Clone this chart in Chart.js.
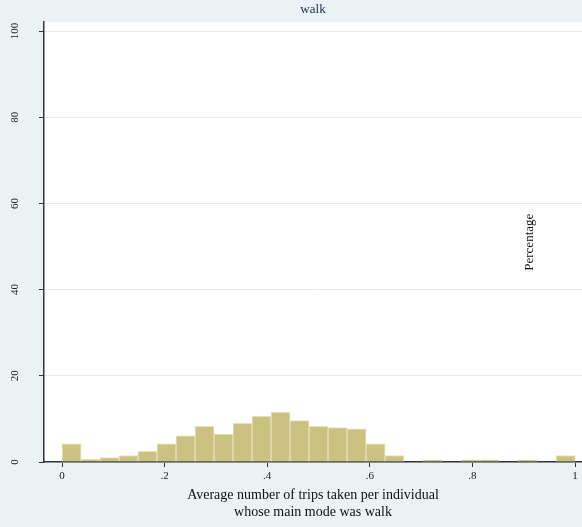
<!DOCTYPE html>
<html>
<head>
<meta charset="utf-8">
<script src="https://cdn.jsdelivr.net/npm/chart.js@4"></script>
<style>
  html, body { margin: 0; padding: 0; background: #eaf2f3; }
</style>
</head>
<body>
<canvas id="chart" width="582" height="527"></canvas>
<script>
  // histogram: 27 equal bins on [0, 1]
  var binCount = 27;
  var binWidth = 1 / binCount;
  var percentages = [4.2, 0.6, 1.0, 1.5, 2.5, 4.2, 6.1, 8.3, 6.5, 9.0, 10.6, 11.5, 9.6, 8.3,
                     8.0, 7.7, 4.2, 1.5, 0, 0.5, 0, 0.5, 0.5, 0, 0.5, 0, 1.5];
  var xTickValues = [0, 0.2, 0.4, 0.6, 0.8, 1];
  var xTickLabels = ["0", ".2", ".4", ".6", ".8", "1"];
  var yTickValues = [0, 20, 40, 60, 80, 100];
  var yTickLabels = ["0", "20", "40", "60", "80", "100"];
  var titleText = "walk";
  var yTitleText = "Percentage";
  var xTitleLines = ["Average number of trips taken per individual", "whose main mode was walk"];

  var serif = "'Liberation Serif', 'DejaVu Serif', serif";

  var points = [];
  for (var i = 0; i < binCount; i++) {
    points.push({ x: (i + 0.5) * binWidth, y: percentages[i] });
  }

  // backgrounds, rotated y labels, title texts
  var decorPlugin = {
    id: "decor",
    beforeDraw: function(chart) {
      var ctx = chart.ctx, a = chart.chartArea;
      ctx.save();
      ctx.fillStyle = "#eaf2f3";
      ctx.fillRect(0, 0, chart.width, chart.height);
      ctx.fillStyle = "#ffffff";
      ctx.fillRect(a.left, a.top, a.right - a.left, a.bottom - a.top);
      ctx.restore();
    },
    afterDraw: function(chart) {
      var ctx = chart.ctx, a = chart.chartArea;
      var yScale = chart.scales.y;
      ctx.save();
      ctx.fillStyle = "#222";
      ctx.font = "11px " + serif;
      ctx.textAlign = "center";
      ctx.textBaseline = "middle";
      yTickValues.forEach(function(v, k) {
        var py = yScale.getPixelForValue(v);
        ctx.save();
        ctx.translate(15, py);
        ctx.rotate(-Math.PI / 2);
        ctx.fillText(yTickLabels[k], 0, 0);
        ctx.restore();
      });

      ctx.font = "13px " + serif;
      ctx.fillStyle = "#1e2d4f";
      ctx.fillText(titleText, (a.left + a.right) / 2, 10);

      ctx.fillStyle = "#111";
      ctx.save();
      ctx.translate(a.right - 52, yScale.getPixelForValue(51));
      ctx.rotate(-Math.PI / 2);
      ctx.fillText(yTitleText, 0, 0);
      ctx.restore();
      ctx.restore();
    }
  };

  new Chart(document.getElementById("chart"), {
    type: "bar",
    data: {
      datasets: [{
        data: points,
        backgroundColor: "#cbc281",
        borderColor: "#e6e2bd",
        borderWidth: 1,
        barPercentage: 1,
        categoryPercentage: 1
      }]
    },
    options: {
      responsive: false,
      animation: false,
      devicePixelRatio: 1,
      layout: { padding: { top: 22, right: 0, left: 0, bottom: 0 } },
      plugins: {
        legend: { display: false },
        tooltip: { enabled: false }
      },
      scales: {
        x: {
          type: "linear",
          offset: false,
          min: -0.0351,
          max: 1.0136,
          afterBuildTicks: function(scale) {
            scale.ticks = xTickValues.map(function(v) { return { value: v }; });
          },
          afterFit: function(scale) { scale.height = 65; },
          grid: { offset: false, drawOnChartArea: false, drawTicks: true, tickLength: 5, tickColor: "#333" },
          border: { display: true, color: "#333", width: 1.5 },
          ticks: {
            color: "#222",
            font: { family: serif, size: 11 },
            padding: 3,
            maxRotation: 0,
            callback: function(v) {
              var k = xTickValues.indexOf(v);
              return k >= 0 ? xTickLabels[k] : "";
            }
          },
          title: {
            display: true,
            text: xTitleLines,
            color: "#111",
            font: { family: serif, size: 14 },
            padding: { top: 0, bottom: 6 }
          }
        },
        y: {
          min: 0,
          max: 102.1,
          afterBuildTicks: function(scale) {
            scale.ticks = yTickValues.map(function(v) { return { value: v }; });
          },
          afterFit: function(scale) { scale.width = 44; },
          grid: { color: "#e2ebee", lineWidth: 1, drawTicks: true, tickLength: 5, tickColor: "#333" },
          border: { display: true, color: "#333", width: 1.5 },
          ticks: { display: false }
        }
      }
    },
    plugins: [decorPlugin]
  });
</script>
</body>
</html>
